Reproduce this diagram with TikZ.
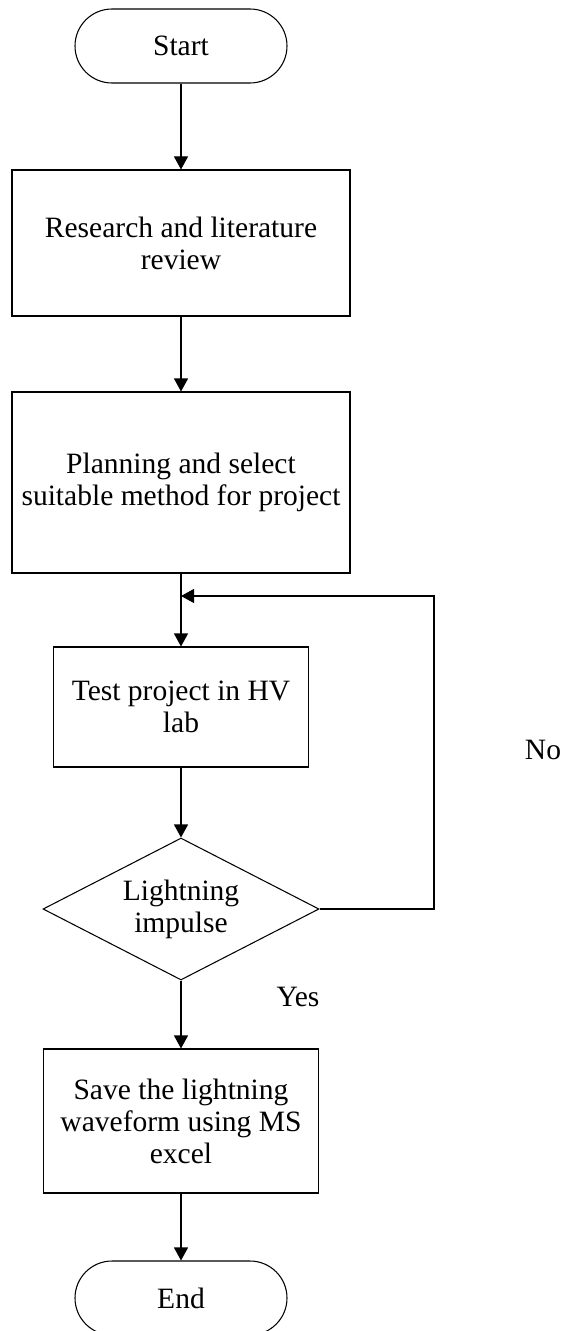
\documentclass[tikz,border=0pt]{standalone}
\usepackage{fontspec}
\setmainfont{Liberation Serif}
\usetikzlibrary{positioning,arrows.meta,shapes.geometric}

\begin{document}
\begin{tikzpicture}[
      font=\fontsize{16.8}{18.2}\selectfont,
      line width=0.6pt,
      term/.style={draw, rounded corners=0.74cm, minimum width=4.24cm,
                   minimum height=1.48cm, align=center},
      blk/.style={draw, align=center, inner sep=0pt},
      dec/.style={draw, diamond, aspect=2, inner sep=0pt, align=center,
                  minimum width=5.52cm, minimum height=2.84cm},
      arr/.style={-{Triangle[length=0.26cm,width=0.28cm]}},
      lbl/.style={inner sep=0pt}
    ]
    \useasboundingbox (0,0) rectangle (11.3,-26.62);
    % ------------- main column -------------
    \node[term] (start) at (3.62,-0.92) {Start};
    \node[blk, minimum width=6.76cm, minimum height=2.92cm] (res) at (3.62,-4.86)
      {Research and literature\\review};
    \node[blk, minimum width=6.76cm, minimum height=3.62cm] (plan) at (3.62,-9.65)
      {Planning and select\\suitable method for project};
    \node[blk, minimum width=5.1cm, minimum height=2.4cm] (test) at (3.62,-14.14)
      {Test project in HV\\lab};
    \node[dec] (chk) at (3.62,-18.18) {Lightning\\impulse};
    \node[blk, minimum width=5.5cm, minimum height=2.88cm] (save) at (3.62,-22.42)
      {Save the lightning\\waveform using MS\\excel};
    \node[term] (stop) at (3.62,-25.96) {End};
    \draw[arr] (start) -- (res);
    \draw[arr] (res) -- (plan);
    \draw[arr] (plan) -- (test);
    \draw[arr] (test) -- (chk);
    \draw[arr] (chk) -- (save);
    \draw[arr] (save) -- (stop);
    % ------------- retry loop -------------
    \coordinate (loopc) at (8.68,-11.92);
    \coordinate (back) at (3.62,-11.92);
    \draw[arr] (chk.east) -| (loopc) -- (back);
    \node[lbl] (no) at (10.86,-15.0) {No};
    \node[lbl] (yes) at (5.96,-19.94) {Yes};
  \end{tikzpicture}
\end{document}
